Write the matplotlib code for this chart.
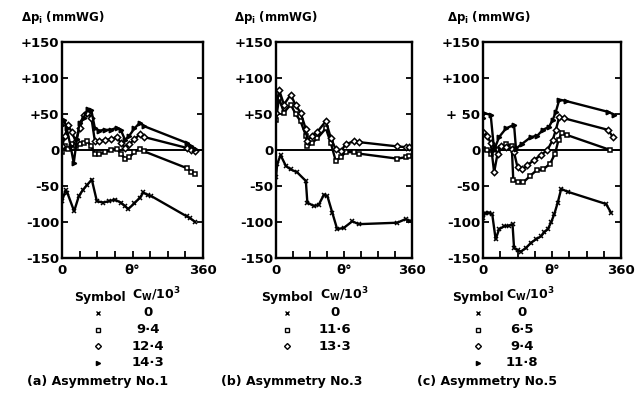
import matplotlib
matplotlib.use("Agg")
import matplotlib.pyplot as plt

plt.rcParams['font.family'] = ['DejaVu Sans']
plt.rcParams['font.weight'] = 'bold'
plt.rcParams['mathtext.default'] = 'regular'

# ---- (a) Asymmetry No.1 ----
a_cw = ["0", "9·4", "12·4", "14·3"]
a_th0 = [0, 9, 14, 31, 43, 54, 65, 76, 89, 105, 120, 135, 150, 161, 169, 185, 199, 208, 220, 228, 318, 328, 340]
a_v0 = [-71, -56, -60, -85, -64, -55, -48, -41, -71, -73, -71, -69, -73, -78, -82, -74, -66, -59, -63, -64, -92, -95, -100]
a_th1 = [0, 8, 15, 25, 35, 45, 55, 65, 75, 84, 95, 110, 125, 140, 150, 161, 172, 185, 199, 210, 318, 330, 340]
a_v1 = [-3, 5, 2, 8, 5, 8, 10, 12, 5, -5, -6, -3, 0, 2, -5, -12, -10, -3, 2, -2, -25, -30, -33]
a_th2 = [0, 8, 15, 25, 35, 45, 55, 65, 75, 84, 95, 110, 125, 140, 150, 161, 172, 185, 199, 210, 318, 330, 340]
a_v2 = [5, 20, 35, 25, 12, 30, 48, 52, 45, 12, 12, 14, 15, 18, 10, 3, 8, 15, 22, 18, 3, 0, -1]
a_th3 = [0, 5, 12, 22, 30, 38, 45, 55, 67, 75, 84, 95, 110, 125, 140, 150, 161, 172, 185, 199, 210, 318, 330, 340]
a_v3 = [35, 42, 30, 5, -18, 15, 38, 45, 57, 55, 30, 27, 28, 28, 31, 28, 14, 20, 30, 38, 33, 10, 5, 2]

# ---- (b) Asymmetry No.3 ----
b_cw = ["0", "11·6", "13·3"]
b_th0 = [0, 3, 12, 26, 39, 56, 79, 83, 101, 113, 127, 136, 149, 162, 180, 202, 219, 321, 343, 356]
b_v0 = [-38, -20, -7, -22, -27, -31, -43, -73, -78, -76, -62, -64, -87, -110, -108, -99, -103, -101, -96, -99]
b_th1 = [0, 8, 21, 39, 52, 65, 79, 83, 96, 109, 132, 145, 158, 172, 184, 206, 219, 321, 343, 352]
b_v1 = [42, 72, 52, 63, 50, 40, 20, 5, 10, 16, 30, 10, -15, -10, -3, -3, -5, -12, -10, -9]
b_th2 = [0, 8, 21, 39, 52, 65, 79, 83, 96, 109, 132, 145, 158, 172, 184, 206, 219, 321, 343, 352]
b_v2 = [52, 84, 63, 77, 62, 52, 29, 13, 20, 25, 40, 17, 1, -2, 8, 12, 11, 5, 4, 4]

# ---- (c) Asymmetry No.5 ----
c_cw = ["0", "6·5", "9·4", "11·8"]
c_th0 = [0, 5, 15, 24, 33, 42, 55, 68, 77, 81, 90, 99, 112, 125, 138, 151, 160, 169, 178, 186, 195, 204, 221, 321, 334]
c_v0 = [-95, -88, -87, -89, -124, -110, -106, -105, -103, -136, -139, -141, -136, -129, -124, -120, -114, -110, -100, -89, -73, -54, -58, -75, -87]
c_th1 = [0, 10, 20, 30, 38, 46, 60, 75, 79, 90, 105, 123, 140, 157, 175, 188, 197, 205, 218, 332]
c_v1 = [2, 0, -5, 2, 0, 3, 8, 6, -42, -44, -45, -36, -28, -27, -19, -5, 14, 23, 21, 0]
c_th2 = [0, 10, 20, 29, 38, 46, 60, 75, 81, 90, 103, 116, 133, 151, 168, 182, 190, 199, 212, 326, 339]
c_v2 = [25, 20, 10, -31, -5, 5, 4, 2, -3, -24, -27, -21, -14, -7, 0, 14, 28, 46, 44, 28, 18]
c_th3 = [0, 3, 20, 29, 42, 60, 81, 86, 103, 125, 142, 156, 172, 182, 190, 199, 217, 326, 343]
c_v3 = [45, 51, 49, 0, 18, 30, 35, 2, 9, 18, 20, 28, 32, 42, 53, 70, 68, 53, 49]

y_ticks = [-150, -100, -50, 0, 50, 100, 150]
y_labels_ab = ["-150", "-100", "-50", "0", "+50", "+100", "+150"]
y_labels_c = ["-150", "-100", "-50", "0", "+ 50", "+100", "+150"]
x_ticks = [0, 180, 360]
x_labels = ["0", "θ°", "360"]

markers = ['x', 's', 'D', '>']

W, H = 643, 396
fig = plt.figure(figsize=(W / 100, H / 100), dpi=100)


def fx(px):
    return px / W


def fy(py):
    return 1 - py / H


panels = [
    dict(left=62, right=203, series=[(a_th0, a_v0), (a_th1, a_v1), (a_th2, a_v2), (a_th3, a_v3)],
         cw=a_cw, ylab=y_labels_ab, ytitle_x=21, sym_x=100, cw_x=156, val_x=148, mk_x=98,
         caption="(a) Asymmetry No.1", cap_x=98),
    dict(left=276, right=412, series=[(b_th0, b_v0), (b_th1, b_v1), (b_th2, b_v2)],
         cw=b_cw, ylab=y_labels_ab, ytitle_x=234, sym_x=287, cw_x=344, val_x=335, mk_x=287,
         caption="(b) Asymmetry No.3", cap_x=292),
    dict(left=483, right=621, series=[(c_th0, c_v0), (c_th1, c_v1), (c_th2, c_v2), (c_th3, c_v3)],
         cw=c_cw, ylab=y_labels_c, ytitle_x=447, sym_x=478, cw_x=530, val_x=522, mk_x=478,
         caption="(c) Asymmetry No.5", cap_x=487),
]

top_px, bot_px = 42, 258
fs = 9.5

for p in panels:
    ax = fig.add_axes([fx(p['left']), fy(bot_px), (p['right'] - p['left']) / W, (bot_px - top_px) / H])
    ax.set_xlim(0, 360)
    ax.set_ylim(-150, 150)
    ax.axhline(0, color='black', lw=1.4)
    for i, (th, v) in enumerate(p['series']):
        m = markers[i]
        ms = 3.2 if m != 'x' else 2.8
        mfc = 'white' if m in ('s', 'D') else 'black'
        ax.plot(th, v, color='black', lw=1.7, marker=m, ms=ms, mfc=mfc, mec='black', mew=1.1)
    for s in ax.spines.values():
        s.set_linewidth(1.7)
    ax.set_yticks(y_ticks)
    ax.set_yticklabels(p['ylab'], fontsize=fs, fontweight='bold')
    ax.set_xticks(x_ticks)
    ax.set_xticklabels(x_labels, fontsize=fs, fontweight='bold')
    ax.set_xticks(list(range(0, 361, 45)), minor=True)
    ax.tick_params(axis='y', direction='in', length=4, width=1.3, right=True, pad=2)
    ax.tick_params(axis='x', which='major', direction='in', length=5, width=1.3, pad=4)
    ax.tick_params(axis='x', which='minor', direction='in', length=5, width=1.3)

    fig.text(fx(p['ytitle_x']), fy(17), r"$\Delta$p$_{\mathregular{i}}$ (mmWG)", fontsize=8.5,
             fontweight='bold', ha='left', va='center')
    fig.text(fx(p['sym_x']), fy(297), "Symbol", fontsize=fs - 0.5, fontweight='bold', ha='center', va='center')
    fig.text(fx(p['cw_x']), fy(295), r"C$_\mathregular{W}$/10$^\mathregular{3}$", fontsize=fs - 0.5,
             fontweight='bold', ha='center', va='center')
    for j, lab in enumerate(p['cw']):
        yy = 313 + j * 16.5
        m = markers[j]
        fig.lines.append(plt.Line2D([fx(p['mk_x'])], [fy(yy)], transform=fig.transFigure,
                                    marker=m, ms=3 if m != 'x' else 2.6,
                                    mfc='white' if m in ('s', 'D') else 'black',
                                    mec='black', mew=1.0, ls='none'))
        fig.text(fx(p['val_x']), fy(yy), lab, fontsize=fs, fontweight='bold', ha='center', va='center')
    fig.text(fx(p['cap_x']), fy(381), p['caption'], fontsize=fs - 0.5, fontweight='bold', ha='center', va='center')

fig.savefig("out.png", dpi=100)
